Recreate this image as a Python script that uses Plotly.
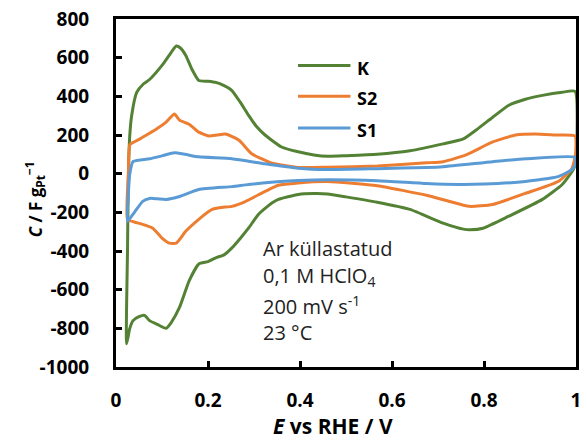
import plotly.graph_objects as go

# ---- data (closed CV loops: anodic sweep then cathodic sweep) ----
K_E = [0.023, 0.025, 0.027, 0.030, 0.034, 0.045, 0.060, 0.073, 0.100, 0.115, 0.131, 0.140, 0.152, 0.165,
       0.180, 0.200, 0.217, 0.235, 0.252, 0.270, 0.288, 0.305, 0.324, 0.360, 0.396, 0.430, 0.460, 0.500,
       0.568, 0.639, 0.711, 0.755, 0.783, 0.819, 0.854, 0.890, 0.927, 0.970, 0.998,
       0.999, 0.991, 0.970, 0.927, 0.854, 0.798, 0.770, 0.755, 0.711, 0.639, 0.568, 0.500, 0.460, 0.430,
       0.396, 0.353, 0.338, 0.310, 0.288, 0.270, 0.252, 0.235, 0.217, 0.200, 0.180, 0.159, 0.138, 0.120,
       0.109, 0.090, 0.073, 0.062, 0.050, 0.037, 0.030, 0.023]
K_C = [-880, -400, 0, 200, 300, 420, 465, 487, 560, 610, 660, 650, 610, 540,
       482, 478, 472, 455, 430, 370, 303, 245, 200, 138, 113, 97, 90, 93,
       100, 118, 154, 180, 226, 292, 354, 385, 405, 421, 426,
       50, 10, -56, -133, -220, -282, -290, -287, -256, -185, -148, -120, -105, -103,
       -108, -133, -153, -210, -282, -335, -384, -420, -435, -455, -467, -554, -692, -770,
       -800, -780, -760, -733, -740, -760, -800, -880]

S2_E = [0.025, 0.027, 0.030, 0.040, 0.052, 0.070, 0.088, 0.109, 0.127, 0.138, 0.159, 0.180, 0.202, 0.220,
        0.238, 0.267, 0.295, 0.338, 0.396, 0.460, 0.568, 0.675, 0.711, 0.761, 0.819, 0.869, 0.912, 0.955, 0.998,
        0.999, 0.991, 0.961, 0.890, 0.819, 0.768, 0.720, 0.675, 0.568, 0.460, 0.396, 0.353, 0.324, 0.281,
        0.252, 0.230, 0.209, 0.180, 0.152, 0.131, 0.116, 0.100, 0.080, 0.058, 0.040, 0.025]
S2_C = [-236, 0, 149, 165, 180, 205, 231, 267, 308, 277, 256, 215, 195, 200,
        205, 174, 103, 55, 32, 33, 40, 56, 62, 97, 164, 200, 205, 200, 195,
        100, 26, -41, -102, -159, -169, -140, -112, -62, -41, -48, -60, -92, -144,
        -169, -175, -185, -236, -297, -359, -359, -333, -282, -262, -250, -236]

S1_E = [0.025, 0.027, 0.030, 0.037, 0.050, 0.073, 0.100, 0.127, 0.150, 0.180, 0.252, 0.324, 0.396, 0.460,
        0.568, 0.675, 0.711, 0.819, 0.890, 0.998,
        0.999, 0.991, 0.961, 0.890, 0.800, 0.746, 0.675, 0.568, 0.460, 0.396, 0.350, 0.288, 0.252, 0.180,
        0.138, 0.109, 0.090, 0.073, 0.058, 0.040, 0.025]
S1_C = [-246, -100, 0, 62, 70, 77, 92, 108, 100, 87, 77, 51, 28, 21,
        26, 32, 36, 62, 77, 85,
        50, 21, -15, -41, -54, -56, -51, -36, -31, -35, -42, -56, -67, -82,
        -118, -133, -130, -128, -143, -200, -246]

series_names = ["K", "S2", "S1"]
series_colors = ["#548235", "#ED7D31", "#5B9BD5"]

x_ticks = [0, 0.2, 0.4, 0.6, 0.8, 1.0]
x_ticktext = ["0", "0.2", "0.4", "0.6", "0.8", "1"]
y_ticks = [800, 600, 400, 200, 0, -200, -400, -600, -800, -1000]
y_ticktext = ["800", "600", "400", "200", "0", "-200", "-400", "-600", "-800", "-1000"]

conditions = ["Ar küllastatud", "0,1 M HClO<sub>4</sub>", "200 mV s<sup>-1</sup>", "23 °C"]

# ---- figure ----
W, H = 587, 441
L, R, T, B = 116, 6, 16, 74
pw, ph = W - L - R, H - T - B

def px(x):
    return (x - L) / pw

def py(y):
    return (H - B - y) / ph

fig = go.Figure()
for name, xs, ys, col in zip(series_names, [K_E, S2_E, S1_E], [K_C, S2_C, S1_C], series_colors):
    fig.add_trace(go.Scatter(x=xs, y=ys, mode="lines", name=name,
                             line=dict(color=col, width=3, shape="spline", smoothing=0.5),
                             showlegend=False))

FONT = "Open Sans"
tickfont = dict(family=FONT, size=19, color="black", weight="bold")

fig.update_layout(
    width=W, height=H,
    margin=dict(l=L, r=R, t=T, b=B),
    paper_bgcolor="white", plot_bgcolor="white",
    xaxis=dict(range=[0, 1], tickvals=x_ticks, ticktext=x_ticktext, showgrid=False, zeroline=False,
               showline=True, linecolor="black", linewidth=3, mirror=True,
               ticks="inside", ticklen=6, tickwidth=2.5, tickcolor="black",
               tickfont=tickfont, ticklabelstandoff=14),
    yaxis=dict(range=[-1000, 800], tickvals=y_ticks, ticktext=y_ticktext, showgrid=False, zeroline=False,
               showline=True, linecolor="black", linewidth=3, mirror=True,
               ticks="inside", ticklen=6, tickwidth=2.5, tickcolor="black",
               tickfont=tickfont, ticklabelstandoff=20),
)

# legend (manual)
leg_y = [63, 94, 126]
shapes = []
annotations = []
for name, col, yy in zip(series_names, series_colors, leg_y):
    shapes.append(dict(type="line", xref="paper", yref="paper", x0=px(300), x1=px(353), y0=py(yy), y1=py(yy),
                       line=dict(color=col, width=3)))
    annotations.append(dict(xref="paper", yref="paper", x=px(358), y=py(yy + 2), text=name, showarrow=False,
                            xanchor="left", yanchor="middle",
                            font=dict(family=FONT, size=18, color="black", weight="bold")))

for txt, yy in zip(conditions, [247, 276, 305, 332]):
    annotations.append(dict(xref="paper", yref="paper", x=px(263), y=py(yy), text=txt, showarrow=False,
                            xanchor="left", yanchor="middle",
                            font=dict(family=FONT, size=20, color="#222222")))

annotations.append(dict(xref="paper", yref="paper", x=px(335), y=py(427), showarrow=False,
                        text="<i>E</i> vs RHE / V", xanchor="center", yanchor="middle",
                        font=dict(family=FONT, size=21, color="black", weight="bold")))
annotations.append(dict(xref="paper", yref="paper", x=px(34), y=py(198), showarrow=False, textangle=-90,
                        text="<i>C</i> / F g<sub>Pt</sub><sup>−1</sup>", xanchor="center", yanchor="middle",
                        font=dict(family=FONT, size=17, color="black", weight="bold")))

fig.update_layout(shapes=shapes, annotations=annotations)
fig.write_html("out.html")
